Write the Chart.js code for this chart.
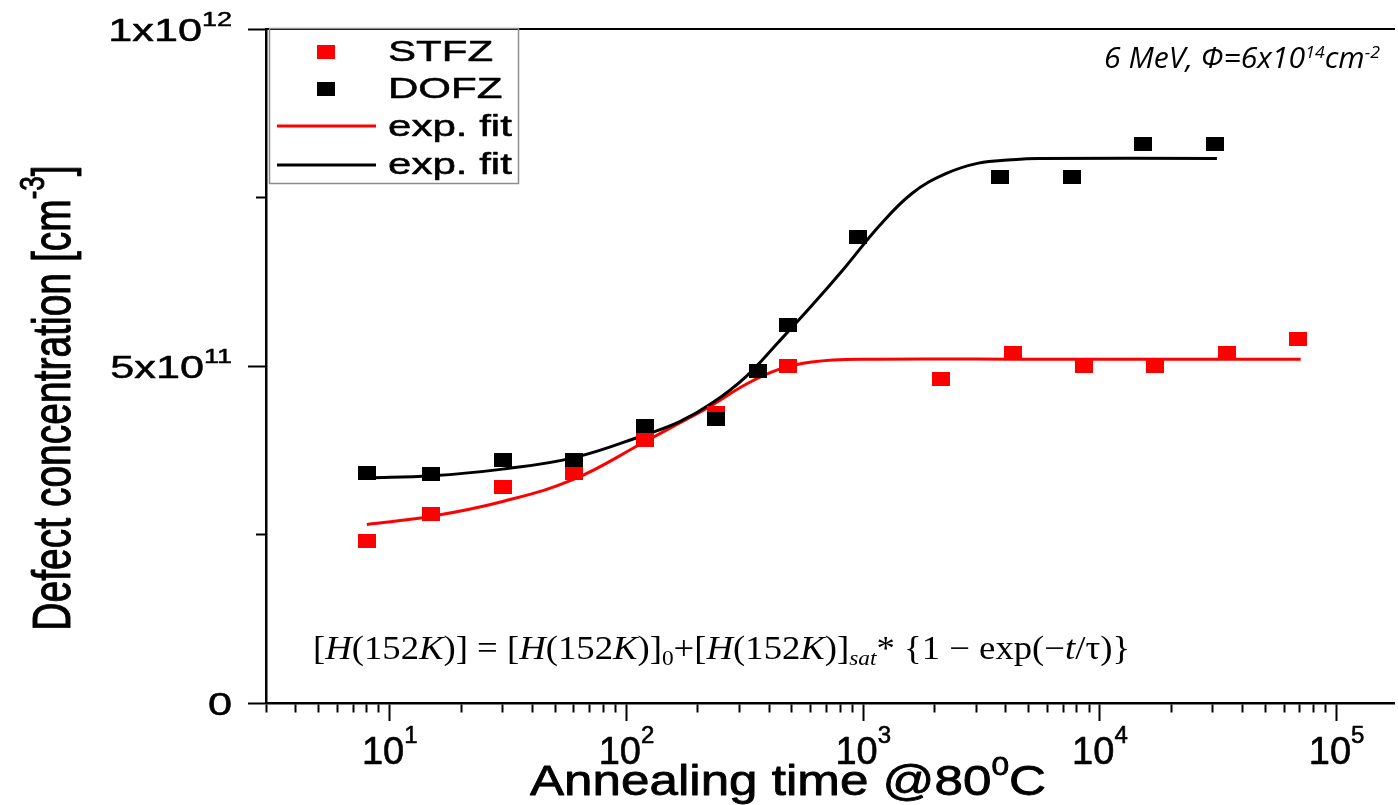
<!DOCTYPE html>
<html>
<head>
<meta charset="utf-8">
<script src="https://cdn.jsdelivr.net/npm/chart.js@4.4.1/dist/chart.umd.min.js"></script>
<style>
  html, body { margin: 0; padding: 0; background: #fff; }
  #wrap { position: relative; width: 1398px; height: 805px; }
</style>
</head>
<body>
<div id="wrap"><canvas id="chart" width="1398" height="805"></canvas></div>
<script>
// annealing time (min) and defect concentration (cm^-3)
const stfzTime = [8, 15, 30, 60, 120, 240, 480, 2140, 4280, 8590, 17150, 34400, 68500];
const stfzConc = [2.41e11, 2.80e11, 3.21e11, 3.41e11, 3.90e11, 4.30e11, 5.00e11, 4.80e11, 5.20e11, 5.00e11, 5.00e11, 5.20e11, 5.40e11];

const dofzTime = [8, 15, 30, 60, 120, 240, 360, 480, 950, 3800, 7640, 15200, 30500];
const dofzConc = [3.41e11, 3.40e11, 3.61e11, 3.61e11, 4.11e11, 4.21e11, 4.92e11, 5.61e11, 6.91e11, 7.81e11, 7.81e11, 8.30e11, 8.30e11];

// exp. fit curves, sampled along the drawn lines
const stfzFitTime = [8, 15, 30, 60, 120, 167, 230, 320, 440, 606, 985, 5490, 70500];
const stfzFitConc = [2.65e11, 2.77e11, 2.99e11, 3.32e11, 3.88e11, 4.15e11, 4.42e11, 4.73e11, 4.95e11, 5.06e11, 5.10e11, 5.10e11, 5.10e11];

const dofzFitTime = [8, 15, 30, 60, 120, 167, 230, 319, 440, 608, 841, 1163, 1606, 2221, 3068, 4240, 5492, 31200];
const dofzFitConc = [3.34e11, 3.37e11, 3.47e11, 3.64e11, 3.98e11, 4.17e11, 4.45e11, 4.84e11, 5.36e11, 5.90e11, 6.47e11, 7.07e11, 7.56e11, 7.85e11, 8.01e11, 8.06e11, 8.08e11, 8.08e11];

// axes
const xMin = 3;
const xMax = 1.747e5;
const xMajorTicks = [10, 100, 1000, 10000, 100000];
const xTickExps = ['1', '2', '3', '4', '5'];
const yTickValues = [0, 2.5e11, 5e11, 7.5e11, 1e12];
const yLabelValues = [0, 5e11, 1e12];
const yLabelMantissa = ['0', '5x10', '1x10'];
const yLabelExps = ['', '11', '12'];

const SANS = '"Liberation Sans", Arial, sans-serif';
const SERIF = '"Liberation Serif", "Times New Roman", serif';

function toPoints(xs, ys) {
    return xs.map((x, i) => ({ x, y: ys[i] }));
}

function makeMarker(color) {
    const c = document.createElement('canvas');
    c.width = 18;
    c.height = 14;
    const g = c.getContext('2d');
    g.fillStyle = color;
    g.fillRect(0, 0, 18, 14);
    return c;
}

const redMarker = makeMarker('#ff0000');
const blackMarker = makeMarker('#000000');

const xTickValues = [];
[1, 10, 100, 1000, 10000].forEach((d) => {
    for (let m = 1; m <= 9; m++) {
        const v = m * d;
        if (v >= xMin && v <= xMax) xTickValues.push(v);
    }
});
xTickValues.push(100000);

function fontOf(p, base) {
    const italic = p.italic !== undefined ? p.italic : base.italic;
    return `${italic ? 'italic ' : ''}${p.size || base.size}px ${p.family || base.family}`;
}

// draws a run of text pieces (super/subscripts via rise) with optional stretch
function richText(ctx, parts, x, y, o) {
    let total = 0;
    const widths = parts.map((p) => {
        ctx.font = fontOf(p, o);
        const w = ctx.measureText(p.t).width;
        total += w;
        return w;
    });
    const sx = o.width ? o.width / total : (o.sx || 1);
    const sy = o.sy || 1;
    ctx.save();
    ctx.translate(x, y);
    if (o.rotate) ctx.rotate(o.rotate);
    ctx.scale(sx, sy);
    ctx.fillStyle = o.color || '#000';
    ctx.strokeStyle = o.color || '#000';
    ctx.lineWidth = o.stroke || 0;
    ctx.lineJoin = 'round';
    ctx.textAlign = 'left';
    ctx.textBaseline = 'alphabetic';
    let cx = o.align === 'center' ? -total / 2 : o.align === 'right' ? -total : 0;
    parts.forEach((p, i) => {
        ctx.font = fontOf(p, o);
        ctx.fillText(p.t, cx, -(p.rise || 0));
        if (o.stroke) ctx.strokeText(p.t, cx, -(p.rise || 0));
        cx += widths[i];
    });
    ctx.restore();
}

const textPlugin = {
    id: 'texts',
    afterDraw(chart) {
        const ctx = chart.ctx;
        const xs = chart.scales.x;
        const ys = chart.scales.y;
        const ds = chart.data.datasets;

        // x tick labels
        xMajorTicks.forEach((v, i) => {
            richText(ctx, [{ t: '10' }, { t: xTickExps[i], size: 24, rise: 21 }],
                xs.getPixelForValue(v), 764, { size: 38, family: SANS, align: 'center', stroke: 0.6 });
        });

        // y tick labels
        yLabelValues.forEach((v, i) => {
            const parts = [{ t: yLabelMantissa[i] }];
            if (yLabelExps[i]) parts.push({ t: yLabelExps[i], size: 20, rise: 15 });
            richText(ctx, parts, 232, ys.getPixelForValue(v) + 12, { size: 32, family: SANS, align: 'right', sx: 1.35, stroke: 0.5 });
        });

        // axis titles
        richText(ctx, [{ t: 'Annealing time @80' }, { t: '0', size: 26, rise: 20 }, { t: 'C' }],
            788, 795, { size: 42, family: SANS, align: 'center', width: 516, stroke: 0.8 });
        richText(ctx, [{ t: 'Defect concentration [cm' }, { t: '-3', size: 26, rise: 19 }, { t: ']' }],
            70, 398, { size: 39, family: SANS, align: 'center', rotate: -Math.PI / 2, sy: 1.38, stroke: 0.7 });

        // legend
        const lx = 269, ly = 28, lw = 249, lh = 155;
        ctx.save();
        ctx.strokeStyle = '#8c8c8c';
        ctx.lineWidth = 1.5;
        ctx.strokeRect(lx + 0.5, ly + 0.5, lw, lh);
        const rows = [
            { ds: ds[1], kind: 'marker', y: 52, baseline: 61 },
            { ds: ds[0], kind: 'marker', y: 89, baseline: 98 },
            { ds: ds[3], kind: 'line', y: 126, baseline: 136 },
            { ds: ds[2], kind: 'line', y: 165, baseline: 174 },
        ];
        rows.forEach((r) => {
            if (r.kind === 'marker') {
                const m = r.ds.pointStyle;
                ctx.drawImage(m, 326 - m.width / 2, r.y - m.height / 2);
            } else {
                ctx.strokeStyle = r.ds.borderColor;
                ctx.lineWidth = 3;
                ctx.beginPath();
                ctx.moveTo(277, r.y);
                ctx.lineTo(376, r.y);
                ctx.stroke();
            }
            richText(ctx, [{ t: r.ds.label }], 388, r.baseline, { size: 29, family: SANS, sx: 1.45, stroke: 0.5 });
        });
        ctx.restore();

        // fluence note
        richText(ctx, [
            { t: '6 MeV, \u03A6=6x10' }, { t: '14', size: 17, rise: 10 },
            { t: 'cm' }, { t: '-2', size: 17, rise: 10 },
        ], 1380, 68, { size: 29, family: '"Open Sans", Lato, sans-serif', italic: true, align: 'right', width: 276 });

        // fit formula
        const I = true;
        richText(ctx, [
            { t: '[' }, { t: 'H', italic: I }, { t: '(152' }, { t: 'K', italic: I }, { t: ')] = [' },
            { t: 'H', italic: I }, { t: '(152' }, { t: 'K', italic: I }, { t: ')]' },
            { t: '0', size: 21, rise: -6 }, { t: '+[' },
            { t: 'H', italic: I }, { t: '(152' }, { t: 'K', italic: I }, { t: ')]' },
            { t: 'sat', size: 21, rise: -6, italic: I }, { t: '* {1 \u2212 exp(\u2212' },
            { t: 't', italic: I }, { t: '/\u03C4)}' },
        ], 313, 659, { size: 33, family: SERIF, width: 817 });
    },
};

new Chart(document.getElementById('chart'), {
    type: 'scatter',
    data: {
        datasets: [
            {
                label: 'DOFZ',
                data: toPoints(dofzTime, dofzConc),
                showLine: false,
                pointStyle: blackMarker,
                pointRadius: 1,
                pointBorderWidth: 0,
                borderColor: '#000000',
                backgroundColor: '#000000',
            },
            {
                label: 'STFZ',
                data: toPoints(stfzTime, stfzConc),
                showLine: false,
                pointStyle: redMarker,
                pointRadius: 1,
                pointBorderWidth: 0,
                borderColor: '#ff0000',
                backgroundColor: '#ff0000',
            },
            {
                label: 'exp. fit',
                data: toPoints(dofzFitTime, dofzFitConc),
                showLine: true,
                pointRadius: 0,
                borderWidth: 3,
                borderColor: '#000000',
                tension: 0.4,
                fill: false,
            },
            {
                label: 'exp. fit',
                data: toPoints(stfzFitTime, stfzFitConc),
                showLine: true,
                pointRadius: 0,
                borderWidth: 3,
                borderColor: '#ff0000',
                tension: 0.4,
                fill: false,
            },
        ],
    },
    options: {
        responsive: false,
        devicePixelRatio: 1,
        animation: false,
        layout: { padding: 0 },
        plugins: {
            legend: { display: false },
            tooltip: { enabled: false },
        },
        scales: {
            x: {
                type: 'logarithmic',
                position: 'bottom',
                min: xMin,
                max: xMax,
                afterFit: (s) => { s.height = 102; },
                afterBuildTicks: (s) => {
                    s.ticks = xTickValues.map((v) => ({ value: v, major: xMajorTicks.includes(v) }));
                },
                border: { display: true, color: '#000', width: 2.5 },
                grid: {
                    display: true,
                    drawOnChartArea: false,
                    drawTicks: true,
                    tickLength: 18,
                    tickWidth: 2,
                    tickColor: '#000',
                    tickBorderDash: (c) => (c.tick && c.tick.major ? [] : [8, 100]),
                },
                ticks: { display: false },
            },
            xTop: {
                type: 'logarithmic',
                axis: 'x',
                position: 'top',
                min: xMin,
                max: xMax,
                afterFit: (s) => { s.height = 29; },
                border: { display: true, color: '#000', width: 2 },
                grid: { display: false },
                ticks: { display: false },
            },
            y: {
                type: 'linear',
                position: 'left',
                min: 0,
                max: 1e12,
                afterFit: (s) => { s.width = 266; },
                afterBuildTicks: (s) => {
                    s.ticks = yTickValues.map((v) => ({ value: v, major: yLabelValues.includes(v) }));
                },
                border: { display: true, color: '#000', width: 2.5 },
                grid: {
                    display: true,
                    drawOnChartArea: false,
                    drawTicks: true,
                    tickLength: 18,
                    tickWidth: 2,
                    tickColor: '#000',
                    tickBorderDash: (c) => (c.tick && c.tick.major ? [] : [0, 8, 10, 100]),
                },
                ticks: { display: false },
            },
        },
    },
    plugins: [textPlugin],
});
</script>
</body>
</html>
